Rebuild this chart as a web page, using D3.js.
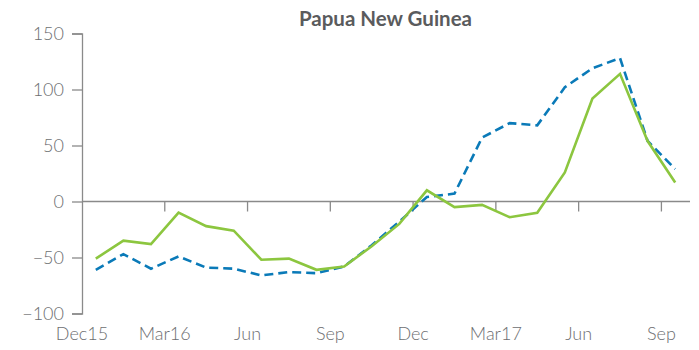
<!DOCTYPE html>
<html>
<head>
<meta charset="utf-8">
<script src="https://cdn.jsdelivr.net/npm/d3@7"></script>
<style>
  html, body { margin: 0; padding: 0; background: #fff; }
  svg text { font-family: Lato, "Open Sans", sans-serif; }
</style>
</head>
<body>
<svg id="chart" width="699" height="350"></svg>
<script>
// Monthly observations, Dec 2015 – Sep 2017
const months = ["Dec15","Jan16","Feb16","Mar16","Apr16","May16","Jun16","Jul16","Aug16","Sep16","Oct16","Nov16",
                "Dec16","Jan17","Feb17","Mar17","Apr17","May17","Jun17","Jul17","Aug17","Sep17"];
const solidSeries  = [-51, -35, -38, -10, -22, -26, -52, -51, -61, -58, -40, -20,
                       10, -5, -3, -14, -10, 26, 92, 114, 54, 17];
const dashedSeries = [-61, -47, -60, -49, -59, -60, -66, -63, -64, -58, -39, -18,
                       4, 7, 57, 70, 68, 102, 119, 128, 54, 29];
const tickMonths = ["Dec15","Mar16","Jun16","Sep16","Dec16","Mar17","Jun17","Sep17"];
const tickLabels = ["Dec15","Mar16","Jun","Sep","Dec","Mar17","Jun","Sep"];
const yTicks = [-100, -50, 0, 50, 100, 150];
const title = "Papua New Guinea";

const svg = d3.select("#chart");
const m = { left: 82, right: 689, top: 33.5, bottom: 313.5 };
const axisColor = "#8a8a8a", textColor = "#6d6e71";

const x = d3.scaleBand().domain(months).range([m.left, m.right]).paddingInner(0).paddingOuter(0);
const y = d3.scaleLinear().domain([-100, 150]).range([m.bottom, m.top]);

// Title
svg.append("text")
  .attr("x", (m.left + m.right) / 2).attr("y", 26)
  .attr("text-anchor", "middle")
  .attr("font-size", 20.5).attr("font-weight", 700)
  .attr("fill", "#5a5b5d")
  .text(title);

// Y axis
const yAxis = d3.axisLeft(y).tickValues(yTicks).tickSize(10).tickPadding(8)
  .tickFormat(d => d < 0 ? "\u2212" + Math.abs(d) : d);
const gy = svg.append("g").attr("transform", `translate(${m.left},0)`).call(yAxis);
gy.select(".domain").attr("stroke", axisColor).attr("stroke-width", 1.3);
gy.selectAll(".tick line").attr("stroke", axisColor).attr("stroke-width", 1.3);
gy.selectAll(".tick text").attr("fill", textColor).attr("font-size", 18)
  .attr("font-weight", 300)
  .attr("font-family", "Lato, 'Open Sans', sans-serif");

// Zero line with month ticks at the start of each quarter
const gx = svg.append("g").attr("transform", `translate(0,${y(0)})`);
gx.append("line").attr("x1", m.left).attr("x2", m.right + 1)
  .attr("stroke", axisColor).attr("stroke-width", 1.3);
gx.selectAll("line.tk").data(tickMonths.slice(1)).join("line").attr("class", "tk")
  .attr("x1", d => x(d)).attr("x2", d => x(d)).attr("y1", 0).attr("y2", 10)
  .attr("stroke", axisColor).attr("stroke-width", 1.3);

// Month labels below the plot
svg.append("g").selectAll("text").data(tickMonths).join("text")
  .attr("x", d => x(d)).attr("y", 340)
  .attr("text-anchor", "middle").attr("font-size", 18).attr("font-weight", 300)
  .attr("fill", textColor)
  .text((d, i) => tickLabels[i]);

// Lines
const line = d3.line().x((d, i) => x(months[i]) + x.bandwidth() / 2).y(d => y(d));
svg.append("path").datum(dashedSeries).attr("d", line)
  .attr("fill", "none").attr("stroke", "#0a7ab8").attr("stroke-width", 2.6)
  .attr("stroke-dasharray", "9,5");
svg.append("path").datum(solidSeries).attr("d", line)
  .attr("fill", "none").attr("stroke", "#8cc63f").attr("stroke-width", 2.6);
</script>
</body>
</html>
